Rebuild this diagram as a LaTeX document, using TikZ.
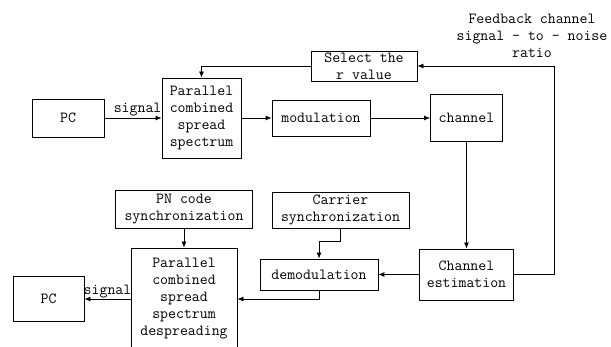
\documentclass[tikz,border=0pt]{standalone}
\usepackage{fontspec}
\usetikzlibrary{arrows.meta}
\tikzset{
  blk/.style={draw, line width=0.8pt, inner sep=0pt, align=center},
  lnk/.style={line width=0.8pt, -{Latex[length=6pt,width=5pt]}},
  wire/.style={line width=0.8pt}
}
\begin{document}
\begin{tikzpicture}[x=1pt,y=-1pt,
  every node/.append style={font=\ttfamily\fontsize{15.4}{17}\selectfont}]
  \useasboundingbox (0,0) rectangle (611,347);
  \clip (0,0) rectangle (611,347);

  % transmit side
  \node[blk, minimum width=72, minimum height=38] (pc) at (68,118) {PC};
  \node[blk, minimum width=79, minimum height=80] (pcss) at (201.5,118)
    {Parallel\\combined\\spread\\spectrum};
  \node[blk, minimum width=98, minimum height=36] (mod) at (321,118) {modulation};
  \node[blk, minimum width=72, minimum height=47] (chan) at (466.5,118) {channel};
  \node[blk, minimum width=106, minimum height=30] (selr) at (364,66) {Select the\\r value};
  \node[align=center] (fbtext) at (532,36) {Feedback channel\\signal - to - noise\\ratio};

  % receive side
  \node[blk, minimum width=94, minimum height=51] (chest) at (466.5,274.5) {Channel\\estimation};
  \node[blk, minimum width=118, minimum height=31] (demod) at (319,274.5) {demodulation};
  \node[blk, minimum width=137, minimum height=36] (carsync) at (340.5,210)
    {Carrier\\synchronization};
  \node[blk, minimum width=137, minimum height=38] (pnsync) at (184,209)
    {PN code\\synchronization};
  \node[blk, minimum width=106, minimum height=102] (despread) at (184,299)
    {Parallel\\combined\\spread\\spectrum\\despreading};
  \node[blk, minimum width=71, minimum height=45] (pcout) at (48.5,299) {PC};

  \coordinate (fb) at (554,66);

  \draw[lnk] (pc.east) -- node[above, pos=0.58, inner sep=2pt] {signal} (pcss.west);
  \draw[lnk] (pcss.east) -- (mod.west);
  \draw[lnk] (mod.east) -- (chan.west);
  \draw[lnk] (chan.south) -- (chest.north);
  \draw[lnk] (chest.east) -| (fb) -- (selr.east);
  \draw[lnk] (selr.west) -| (pcss.north);
  \draw[lnk] (chest.west) -- (demod.east);
  \draw[lnk] (carsync.south) -- ++(0,13) -| (demod.north);
  \draw[lnk] (demod.south) |- (despread.east);
  \draw[lnk] (pnsync.south) -- (despread.north);
  \draw[lnk] (despread.west) -- node[above, pos=0.5, inner sep=1pt] {signal} (pcout.east);
\end{tikzpicture}
\end{document}
